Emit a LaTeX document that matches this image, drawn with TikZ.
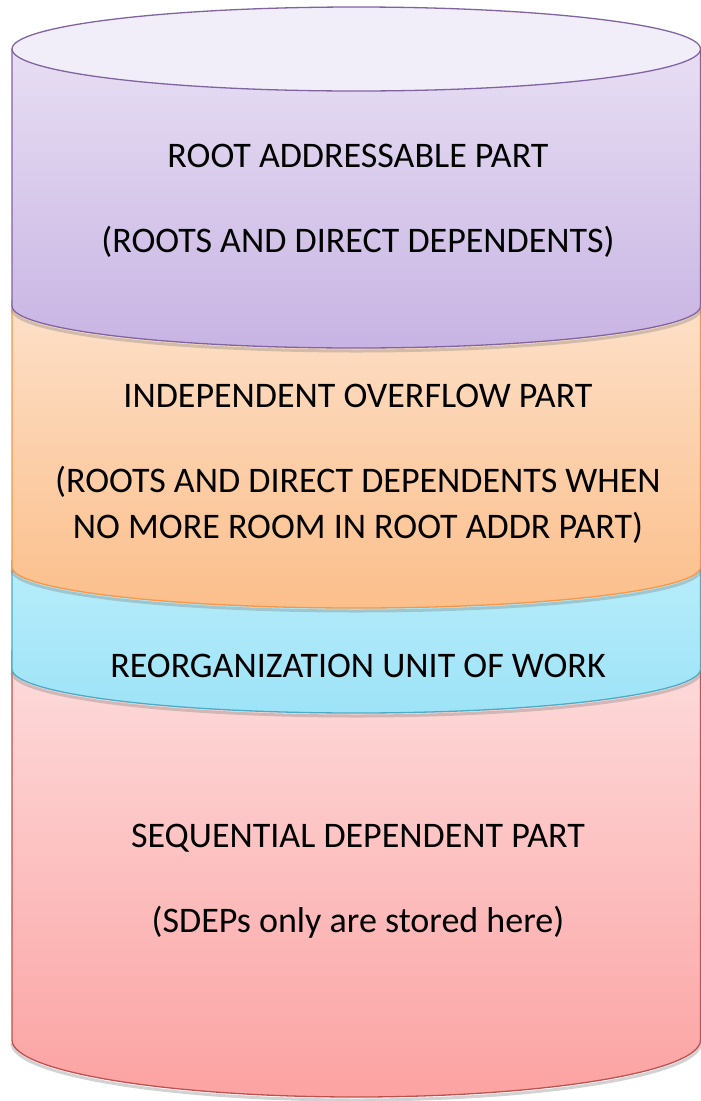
\documentclass[tikz,border=0pt]{standalone}
\usepackage{fontspec}
\setmainfont{Carlito}
\begin{document}
\begin{tikzpicture}[x=1pt,y=-1pt,
  lbl/.style={anchor=base,inner sep=0pt,font=\fontsize{36}{43}\selectfont,text=black},
  shadowarc/.style={draw=black!50,line width=3pt,opacity=0.35},
  sect/.style={line width=1.3pt}]
\definecolor{pStroke}{HTML}{8064A2}
\definecolor{pTop}{HTML}{E7DEF3}
\definecolor{pBot}{HTML}{C8B4E3}
\definecolor{pCap}{HTML}{F2EEF9}
\definecolor{oStroke}{HTML}{F79646}
\definecolor{oTop}{HTML}{FDE0C9}
\definecolor{oBot}{HTML}{FBBF8B}
\definecolor{cStroke}{HTML}{4BACC6}
\definecolor{cTop}{HTML}{B8EDFA}
\definecolor{cBot}{HTML}{9EE3F8}
\definecolor{rStroke}{HTML}{C0504D}
\definecolor{rTop}{HTML}{FDDCDC}
\definecolor{rBot}{HTML}{FCA2A2}
\useasboundingbox (0,0) rectangle (701,1101);
\fill[white] (0,0) rectangle (701,1101);
% pink section
\draw[shadowarc] (12,1043) arc[start angle=180,end angle=0,x radius=344.25,y radius=57];
\path[top color=rTop,bottom color=rBot] (12,650) -- (12,1040) arc[start angle=180,end angle=0,x radius=344.25,y radius=57] -- (700.5,650) -- cycle;
\draw[sect,draw=rStroke] (12,650) -- (12,1040) arc[start angle=180,end angle=0,x radius=344.25,y radius=57] -- (700.5,650);
% cyan section
\draw[shadowarc] (12,672) arc[start angle=180,end angle=0,x radius=344.25,y radius=44];
\path[top color=cTop,bottom color=cBot] (12,560) -- (12,669) arc[start angle=180,end angle=0,x radius=344.25,y radius=44] -- (700.5,560) -- cycle;
\draw[sect,draw=cStroke] (12,560) -- (12,669) arc[start angle=180,end angle=0,x radius=344.25,y radius=44] -- (700.5,560);
% orange section
\draw[shadowarc] (12,570) arc[start angle=180,end angle=0,x radius=344.25,y radius=41];
\path[top color=oTop,bottom color=oBot] (12,300) -- (12,567) arc[start angle=180,end angle=0,x radius=344.25,y radius=41] -- (700.5,300) -- cycle;
\draw[sect,draw=oStroke] (12,300) -- (12,567) arc[start angle=180,end angle=0,x radius=344.25,y radius=41] -- (700.5,300);
% purple section
\draw[shadowarc] (12,309) arc[start angle=180,end angle=0,x radius=344.25,y radius=42];
\path[top color=pTop,bottom color=pBot] (12,49) -- (12,306) arc[start angle=180,end angle=0,x radius=344.25,y radius=42] -- (700.5,49) -- cycle;
\draw[sect,draw=pStroke] (12,49) -- (12,306) arc[start angle=180,end angle=0,x radius=344.25,y radius=42] -- (700.5,49);
% top cap
\draw[sect,draw=pStroke,fill=pCap] (356.25,49) ellipse[x radius=344.25,y radius=42];
% labels
\node[lbl] (p1) at (358,167) {ROOT ADDRESSABLE PART};
\node[lbl] (p2) at (358,252) {(ROOTS AND DIRECT DEPENDENTS)};
\node[lbl] (o1) at (358,407) {INDEPENDENT OVERFLOW PART};
\node[lbl] (o2) at (358,492) {(ROOTS AND DIRECT DEPENDENTS WHEN};
\node[lbl] (o3) at (358,538) {NO MORE ROOM IN ROOT ADDR PART)};
\node[lbl] (c1) at (358,677) {REORGANIZATION UNIT OF WORK};
\node[lbl] (r1) at (358,847) {SEQUENTIAL DEPENDENT PART};
\node[lbl] (r2) at (358,932) {(SDEPs only are stored here)};
\end{tikzpicture}
\end{document}
